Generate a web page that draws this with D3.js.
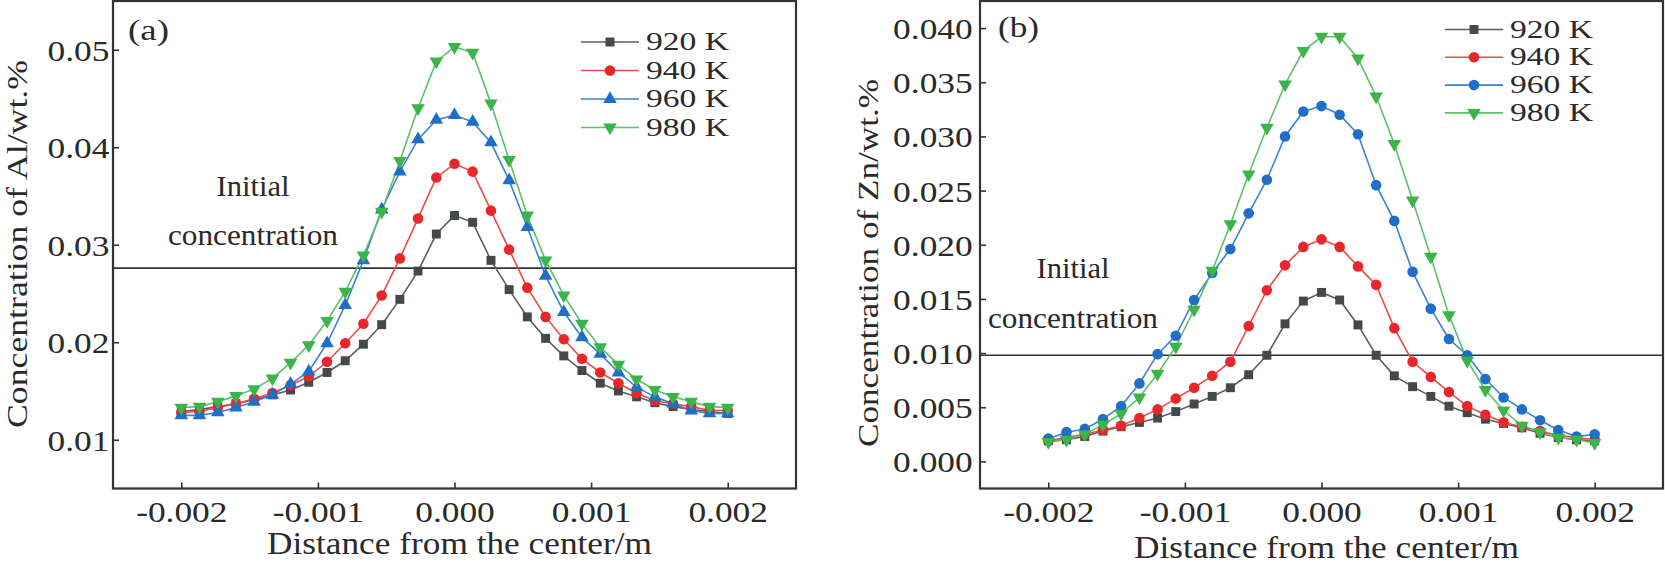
<!DOCTYPE html>
<html><head><meta charset="utf-8">
<script src="https://cdnjs.cloudflare.com/ajax/libs/d3/7.8.5/d3.min.js"></script>
<style>
body{margin:0;background:#fff}
text{font-family:"Liberation Serif","Times New Roman",serif;fill:#2a2a2a}
</style>
</head><body>
<svg id="c" width="1665" height="566"></svg>
<script>
// ---------- data ----------
const distance = [-0.002,-0.001867,-0.001733,-0.0016,-0.001467,-0.001333,-0.0012,-0.001067,-0.000933,-0.0008,-0.000667,-0.000533,-0.0004,-0.000267,-0.000133,0,0.000133,0.000267,0.0004,0.000533,0.000667,0.0008,0.000933,0.001067,0.0012,0.001333,0.001467,0.0016,0.001733,0.001867,0.002];
const temps = ["920 K","940 K","960 K","980 K"];

const al920 = [0.0129,0.0131,0.0134,0.0137,0.0141,0.0146,0.0151,0.0159,0.0169,0.0181,0.0198,0.0218,0.0244,0.0273,0.0311,0.0330,0.0323,0.0284,0.0254,0.0226,0.0204,0.0186,0.0171,0.0158,0.0150,0.0144,0.0138,0.0134,0.0131,0.0129,0.0127];
const al940 = [0.0128,0.0129,0.0133,0.0137,0.0142,0.0148,0.0156,0.0165,0.0180,0.0199,0.0219,0.0248,0.0286,0.0327,0.0369,0.0383,0.0375,0.0335,0.0295,0.0256,0.0226,0.0203,0.0183,0.0169,0.0158,0.0148,0.0140,0.0137,0.0134,0.0130,0.0130];
const al960 = [0.0125,0.0125,0.0128,0.0133,0.0139,0.0146,0.0157,0.0170,0.0199,0.0238,0.0284,0.0336,0.0375,0.0408,0.0428,0.0433,0.0426,0.0405,0.0366,0.0318,0.0268,0.0231,0.0205,0.0188,0.0169,0.0154,0.0144,0.0137,0.0130,0.0127,0.0127];
const al980 = [0.0133,0.0134,0.0139,0.0145,0.0152,0.0163,0.0179,0.0197,0.0222,0.0252,0.0289,0.0334,0.0386,0.0440,0.0488,0.0503,0.0497,0.0445,0.0387,0.0330,0.0284,0.0248,0.0219,0.0195,0.0177,0.0162,0.0151,0.0144,0.0139,0.0134,0.0133];

const zn920 = [0.0019,0.0020,0.0023,0.0028,0.0032,0.0036,0.0040,0.0046,0.0053,0.0060,0.0068,0.0080,0.0098,0.0127,0.0148,0.0156,0.0149,0.0126,0.0098,0.0079,0.0069,0.0060,0.0051,0.0045,0.0039,0.0035,0.0031,0.0026,0.0022,0.0020,0.0019];
const zn940 = [0.0019,0.0022,0.0025,0.0029,0.0033,0.0040,0.0048,0.0058,0.0068,0.0079,0.0092,0.0125,0.0158,0.0181,0.0198,0.0205,0.0198,0.0180,0.0163,0.0123,0.0092,0.0078,0.0064,0.0051,0.0043,0.0036,0.0032,0.0028,0.0024,0.0022,0.0020];
const zn960 = [0.0021,0.0027,0.0030,0.0039,0.0051,0.0072,0.0099,0.0116,0.0149,0.0174,0.0196,0.0229,0.0260,0.0300,0.0323,0.0328,0.0320,0.0302,0.0255,0.0222,0.0175,0.0141,0.0113,0.0098,0.0076,0.0059,0.0048,0.0038,0.0029,0.0023,0.0025];
const zn980 = [0.0018,0.0020,0.0025,0.0034,0.0044,0.0059,0.0081,0.0106,0.0140,0.0176,0.0219,0.0265,0.0308,0.0348,0.0379,0.0392,0.0392,0.0372,0.0337,0.0293,0.0241,0.0189,0.0135,0.0093,0.0066,0.0047,0.0033,0.0027,0.0022,0.0020,0.0017];

const xTicks = [-0.002,-0.001,0,0.001,0.002];
const alTicks = [0.01,0.02,0.03,0.04,0.05];
const znTicks = [0,0.005,0.01,0.015,0.02,0.025,0.03,0.035,0.04];
const alInitial = 0.0276;
const znInitial = 0.0098;

// ---------- styles ----------
const markColors = ["#44494c","#e8272b","#1f6fc8","#3bb54a"];
const lineColors = ["#5a5f62","#ee4a4a","#3c82d0","#5cc068"];

const svg = d3.select("#c");
const FONT_TICK = 29, SX = 1.22;

function symbolPath(shape){
  if(shape==="square") return d3.symbol(d3.symbolSquare,80)();
  if(shape==="circle") return d3.symbol(d3.symbolCircle,88)();
  return d3.symbol(d3.symbolTriangle,80)();
}
function symbolRot(shape){ return shape==="down" ? " rotate(180)" : ""; }

function panel(cfg){
  const g = svg.append("g").attr("transform",`translate(${cfg.left},${cfg.top})`);
  const W = cfg.width, H = cfg.height;
  const x = d3.scaleLinear().domain([-0.0025,0.0025]).range([0,W]);
  const y = d3.scaleLinear().domain(cfg.ydomain).range([H,0]);

  // axes (inward ticks)
  const ax = g.append("g").attr("transform",`translate(0,${H})`)
    .call(d3.axisBottom(x).tickValues(xTicks).tickFormat(d3.format(".3f")).tickSizeInner(-6).tickSizeOuter(0));
  ax.select(".domain").remove();
  ax.selectAll("line").attr("stroke","#333").attr("stroke-width",1.6);
  ax.selectAll("text").attr("font-size",FONT_TICK).attr("y",34).attr("dy",null)
    .attr("transform",`scale(${SX},1)`).style("font-family",'"Liberation Serif",serif').attr("fill","#2a2a2a")
    .text(d=> d3.format(".3f")(d).replace("−","-"));

  const ay = g.append("g")
    .call(d3.axisLeft(y).tickValues(cfg.yticks).tickFormat(d3.format(cfg.yfmt)).tickSizeInner(-6).tickSizeOuter(0).tickPadding(cfg.ypad));
  ay.select(".domain").remove();
  ay.selectAll("line").attr("stroke","#333").attr("stroke-width",1.6);
  ay.selectAll("text").attr("font-size",FONT_TICK).attr("dy","0.36em")
    .attr("transform",`scale(${SX},1)`).style("font-family",'"Liberation Serif",serif').attr("fill","#2a2a2a");

  // frame
  g.append("rect").attr("x",0).attr("y",0).attr("width",W).attr("height",H)
    .attr("fill","none").attr("stroke","#333").attr("stroke-width",2.2);

  // initial concentration line
  g.append("line").attr("x1",0).attr("x2",W).attr("y1",y(cfg.initial)).attr("y2",y(cfg.initial))
    .attr("stroke","#333").attr("stroke-width",1.6);

  // series
  const line = d3.line().x((d,i)=>x(distance[i])).y(d=>y(d));
  cfg.series.forEach((s,si)=>{
    g.append("path").datum(s).attr("d",line).attr("fill","none")
      .attr("stroke",lineColors[si]).attr("stroke-width",1.6);
  });
  cfg.series.forEach((s,si)=>{
    const shape = cfg.shapes[si];
    g.append("g").selectAll("path").data(s).join("path")
      .attr("d",symbolPath(shape))
      .attr("transform",(d,i)=>`translate(${x(distance[i])},${y(d)})${symbolRot(shape)}`)
      .attr("fill",markColors[si]);
  });

  // legend
  const lg = g.append("g").attr("transform",`translate(${cfg.legend[0]},${cfg.legend[1]})`);
  temps.forEach((t,i)=>{
    const yy = i*cfg.legendStep;
    lg.append("line").attr("x1",0).attr("x2",58).attr("y1",yy).attr("y2",yy)
      .attr("stroke",lineColors[i]).attr("stroke-width",1.6);
    lg.append("path").attr("d",symbolPath(cfg.shapes[i]))
      .attr("transform",`translate(29,${yy})${symbolRot(cfg.shapes[i])}`).attr("fill",markColors[i]);
    lg.append("text").attr("x",65).attr("y",yy+8).attr("font-size",25)
      .attr("textLength",83).attr("lengthAdjust","spacingAndGlyphs").text(t);
  });

  // panel label
  g.append("text").attr("x",cfg.tag[0]).attr("y",cfg.tag[1]).attr("font-size",30)
    .attr("textLength",41).attr("lengthAdjust","spacingAndGlyphs").text(cfg.tagText);

  // initial concentration annotation
  g.append("text").attr("x",cfg.note[0]).attr("y",cfg.note[1]).attr("text-anchor","middle")
    .attr("font-size",30).attr("textLength",73).attr("lengthAdjust","spacingAndGlyphs").text("Initial");
  g.append("text").attr("x",cfg.note[0]).attr("y",cfg.note[2]).attr("text-anchor","middle")
    .attr("font-size",30).attr("textLength",170).attr("lengthAdjust","spacingAndGlyphs").text("concentration");

  // axis titles
  g.append("text").attr("x",W/2+5).attr("y",cfg.xtitleY).attr("text-anchor","middle")
    .attr("font-size",31).attr("textLength",385).attr("lengthAdjust","spacingAndGlyphs")
    .text("Distance from the center/m");
  g.append("text").attr("transform",`translate(${cfg.ytitle[0]},${cfg.ytitle[1]}) rotate(-90)`)
    .attr("text-anchor","middle").attr("font-size",30)
    .attr("textLength",368).attr("lengthAdjust","spacingAndGlyphs").text(cfg.ytitleText);
}

panel({
  left:113, top:1, width:683, height:487.5,
  ydomain:[0.005,0.055], yticks:alTicks, yfmt:".2f", ypad:3,
  initial:alInitial,
  series:[al920,al940,al960,al980],
  shapes:["square","circle","up","down"],
  legend:[468,41], legendStep:28.5,
  tag:[15,39], tagText:"(a)",
  note:[140,195,244],
  xtitleY:553,
  ytitle:[-86,243], ytitleText:"Concentration of Al/wt.%"
});

panel({
  left:980, top:1, width:683, height:487.5,
  ydomain:[-0.0025,0.0425], yticks:znTicks, yfmt:".3f", ypad:6,
  initial:znInitial,
  series:[zn920,zn940,zn960,zn980],
  shapes:["square","circle","circle","down"],
  legend:[465,28.5], legendStep:27.8,
  tag:[18,36], tagText:"(b)",
  note:[93,277,327],
  xtitleY:557,
  ytitle:[-102,262], ytitleText:"Concentration of Zn/wt.%"
});
</script>
</body></html>
